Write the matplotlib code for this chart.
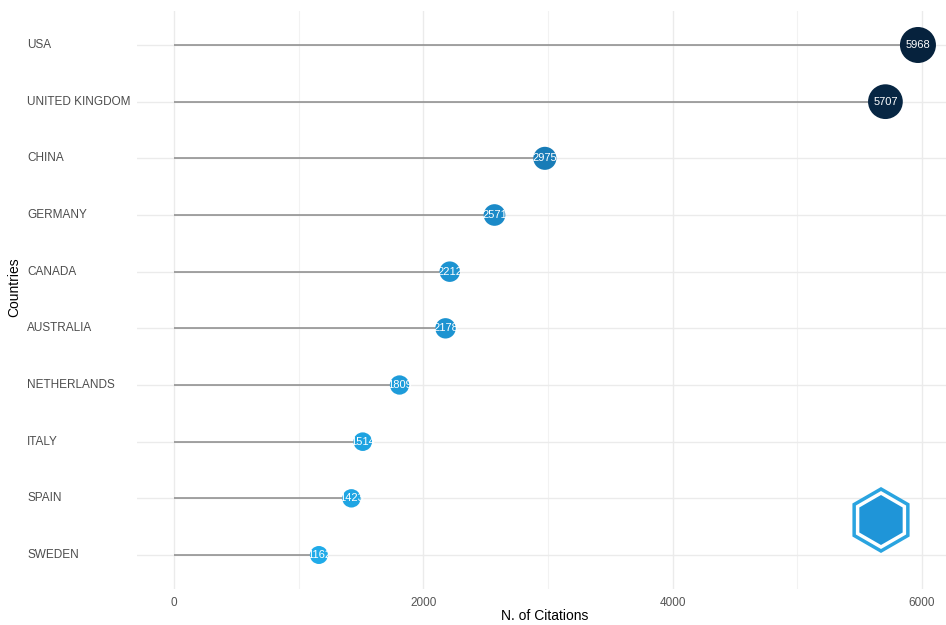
import matplotlib
matplotlib.use("Agg")
import matplotlib.pyplot as plt
import numpy as np
from matplotlib.colors import LinearSegmentedColormap
from matplotlib.patches import RegularPolygon
import matplotlib.transforms as mtransforms

countries = ["USA", "UNITED KINGDOM", "CHINA", "GERMANY", "CANADA",
             "AUSTRALIA", "NETHERLANDS", "ITALY", "SPAIN", "SWEDEN"]
citations = [5968, 5707, 2975, 2571, 2212, 2178, 1809, 1514, 1423, 1162]
x_ticks = [0, 2000, 4000, 6000]

plt.rcParams['font.family'] = ['Liberation Sans', 'DejaVu Sans']

W, H = 946, 625
fig = plt.figure(figsize=(W / 100, H / 100), dpi=100)
ax = fig.add_axes([137 / W, 1 - 589 / H, (946 - 137) / W, (589 - 11) / H])

n = len(countries)
ypos = np.arange(n)
vals = np.array(citations, dtype=float)
vmin, vmax = vals.min(), vals.max()
frac = (vals - vmin) / (vmax - vmin)

cmap = LinearSegmentedColormap.from_list("bx", ["#20abe9", "#1a86c4", "#0d3c62", "#06223d"])
colors = cmap(frac)
diam_px = 18 + 18 * frac ** 1.3
sizes = (diam_px * 0.72) ** 2

ax.hlines(ypos, 0, vals, color="#8a8a8a", linewidth=1.1, zorder=2)
ax.scatter(vals, ypos, s=sizes, c=colors, zorder=3, edgecolors="none")
for v, y in zip(citations, ypos):
    ax.text(v, y, str(v), color="white", fontsize=8, ha="center", va="center", zorder=4)

ax.set_xlim(-297, 6193)
ax.set_ylim(n - 1 + 0.6, -0.6)
ax.set_xticks(x_ticks)
ax.set_xticks([1000, 3000, 5000], minor=True)
ax.set_xticklabels([str(t) for t in x_ticks], fontsize=8.5, color="#555555")
ax.set_yticks(ypos)
ax.set_yticklabels([])
ax.tick_params(axis="both", which="both", length=0)
ax.tick_params(axis="x", pad=6)

trans = mtransforms.blended_transform_factory(fig.transFigure, ax.transData)
for c, y in zip(countries, ypos):
    ax.text(27 / W, y, c, transform=trans, fontsize=8.5, color="#4d4d4d", ha="left", va="center")

ax.grid(True, which="major", color="#ebebeb", linewidth=1.0, zorder=0)
ax.grid(True, which="minor", axis="x", color="#f2f2f2", linewidth=0.8, zorder=0)
ax.set_axisbelow(True)
for sp in ax.spines.values():
    sp.set_visible(False)

fig.text(545 / W, 1 - 616 / H, "N. of Citations", fontsize=10, ha="center", va="center", color="black")
fig.text(14 / W, 1 - 287 / H, "Countries", fontsize=10, ha="center", va="center", rotation=90, color="black")

# logo-like hexagon
cx, cy = 881, 520
hex_outer = RegularPolygon((cx, H - cy), numVertices=6, radius=31, orientation=0,
                           facecolor="white", edgecolor="#2aa4e0", linewidth=2.5,
                           transform=None, zorder=10)
hex_inner = RegularPolygon((cx, H - cy), numVertices=6, radius=25, orientation=0,
                           facecolor="#1f95d8", edgecolor="none", transform=None, zorder=11)
fig.patches.extend([hex_outer, hex_inner])

fig.savefig("out.png", dpi=100, facecolor="white")
